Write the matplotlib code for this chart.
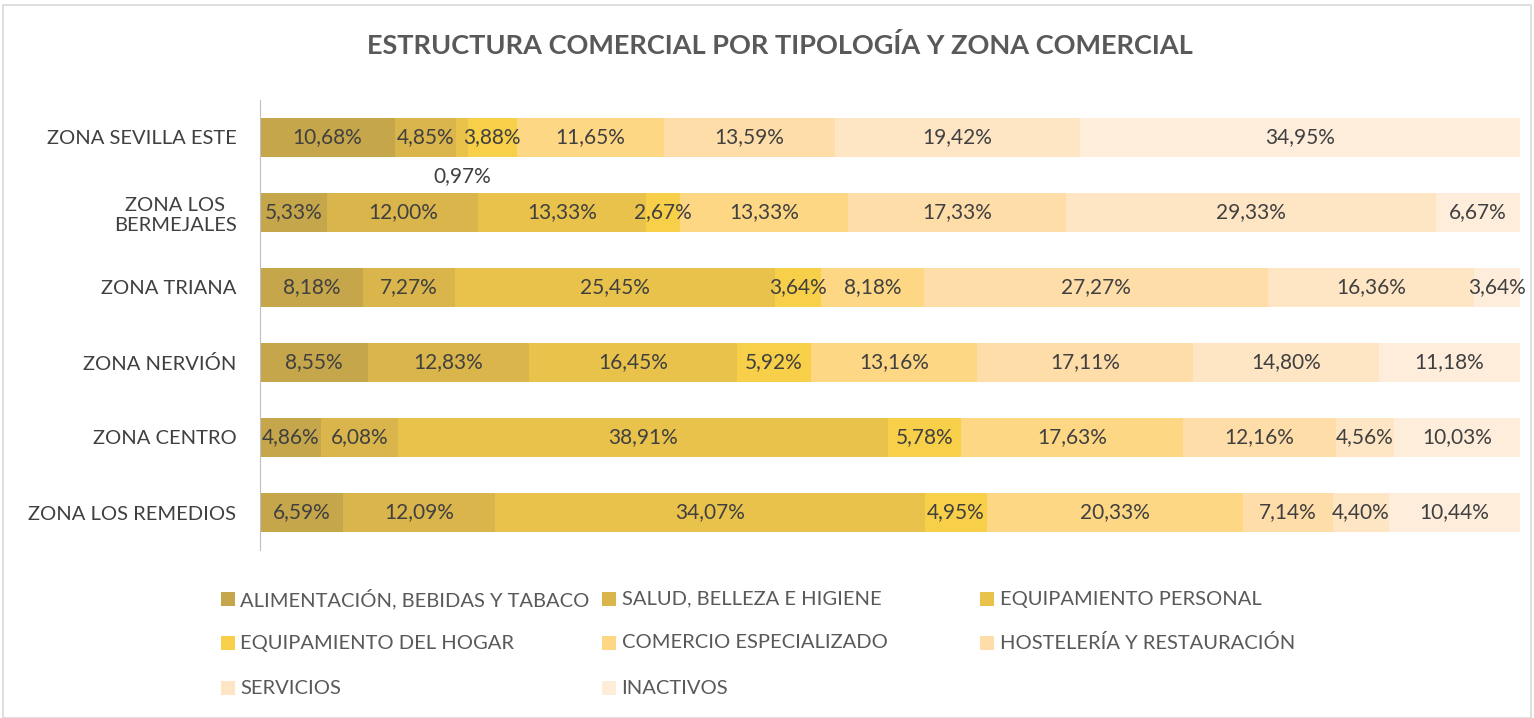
import numpy as np
import matplotlib.pyplot as plt
from matplotlib.patches import Rectangle

zonas = ['ZONA SEVILLA ESTE', 'ZONA LOS\nBERMEJALES', 'ZONA TRIANA', 'ZONA NERVIÓN',
         'ZONA CENTRO', 'ZONA LOS REMEDIOS']

series = ['ALIMENTACIÓN, BEBIDAS Y TABACO', 'SALUD, BELLEZA E HIGIENE', 'EQUIPAMIENTO PERSONAL',
          'EQUIPAMIENTO DEL HOGAR', 'COMERCIO ESPECIALIZADO', 'HOSTELERÍA Y RESTAURACIÓN',
          'SERVICIOS', 'INACTIVOS']

# one list per zone, in the series order above
sevilla_este = [10.68, 4.85, 0.97, 3.88, 11.65, 13.59, 19.42, 34.95]
bermejales = [5.33, 12.00, 13.33, 2.67, 13.33, 17.33, 29.33, 6.67]
triana = [8.18, 7.27, 25.45, 3.64, 8.18, 27.27, 16.36, 3.64]
nervion = [8.55, 12.83, 16.45, 5.92, 13.16, 17.11, 14.80, 11.18]
centro = [4.86, 6.08, 38.91, 5.78, 17.63, 12.16, 4.56, 10.03]
remedios = [6.59, 12.09, 34.07, 4.95, 20.33, 7.14, 4.40, 10.44]

colors = ['#C5A64A', '#D9B54B', '#E9C24B', '#F8CF48', '#FDD783', '#FEDDA9', '#FEE5C4', '#FEEDDA']

data = np.array([sevilla_este, bermejales, triana, nervion, centro, remedios])

plt.rcParams['font.family'] = ['Lato', 'DejaVu Sans']

W, H = 1534, 718
fig = plt.figure(figsize=(W / 100, H / 100), dpi=100)
ax = fig.add_axes([260 / W, 1 - 550 / H, 1260 / W, 450 / H])

y = np.arange(len(zonas))
left = np.zeros(len(zonas))
for j, name in enumerate(series):
    vals = data[:, j]
    ax.barh(y, vals, left=left, height=0.51, color=colors[j], label=name)
    for i, v in enumerate(vals):
        txt = f'{v:.2f}%'.replace('.', ',')
        cx = left[i] + v / 2
        yy = y[i] + 0.52 if v < 1 else y[i]   # tiny segment: label sits under the bar
        ax.text(cx, yy, txt, ha='center', va='center', fontsize=15, color='#404040')
    left += vals

ax.set_xlim(0, 100)
ax.set_ylim(len(zonas) - 0.5, -0.5)
ax.set_yticks(y)
ax.set_yticklabels(zonas, fontsize=14.5, color='#404040')
for lab in ax.get_yticklabels():
    lab.set_multialignment('center')
ax.tick_params(axis='y', length=0, pad=17)
ax.set_xticks([])
for s in ['top', 'right', 'bottom']:
    ax.spines[s].set_visible(False)
ax.spines['left'].set_color('#BFBFBF')

fig.text(780 / W, 1 - 45 / H, 'ESTRUCTURA COMERCIAL POR TIPOLOGÍA Y ZONA COMERCIAL',
         ha='center', va='center', fontsize=19.5, fontweight='bold', color='#595959')

# legend, Excel style: row by row, three equal columns
sq_x = [221, 602, 980]
row_y = [599, 643, 688]
sq = 13.5
for k, name in enumerate(series):
    r, c = divmod(k, 3)
    x0, yc = sq_x[c], row_y[r]
    fig.patches.append(Rectangle((x0 / W, 1 - (yc + sq / 2) / H), sq / W, sq / H,
                                 transform=fig.transFigure, facecolor=colors[k], edgecolor='none'))
    fig.text((x0 + sq + 6) / W, 1 - yc / H, name, ha='left', va='center',
             fontsize=14.5, color='#595959')

fig.patches.append(Rectangle((3 / W, 0), 1 - 6 / W, 1 - 5 / H, transform=fig.transFigure,
                             fill=False, edgecolor='#D9D9D9', linewidth=1.2))

fig.savefig('out.png', dpi=100)
